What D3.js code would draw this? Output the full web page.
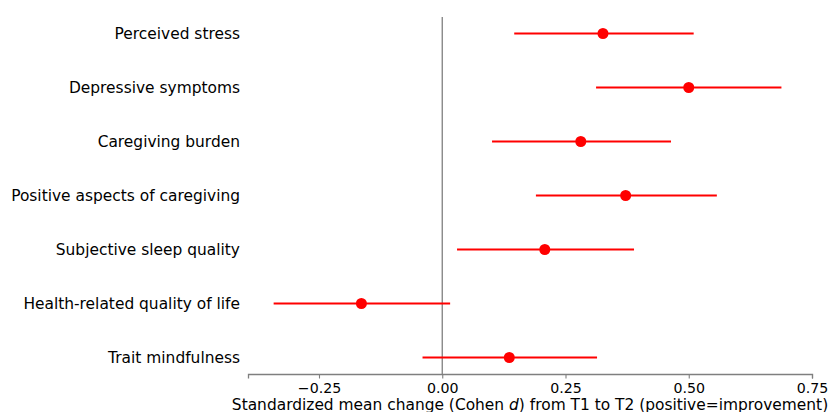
<!DOCTYPE html>
<html><head><meta charset="utf-8">
<script src="https://cdn.jsdelivr.net/npm/d3@7"></script>
<style>body{margin:0;background:#fff}svg{display:block}text{font-family:"DejaVu Sans",sans-serif}</style>
</head><body>
<svg id="c" width="832" height="412"></svg>
<script>
const categories = ["Perceived stress","Depressive symptoms","Caregiving burden","Positive aspects of caregiving","Subjective sleep quality","Health-related quality of life","Trait mindfulness"];
const estimates = [0.326, 0.500, 0.281, 0.372, 0.208, -0.164, 0.136];
const ciLow = [0.146, 0.312, 0.101, 0.190, 0.030, -0.342, -0.040];
const ciHigh = [0.510, 0.688, 0.464, 0.557, 0.389, 0.016, 0.314];
const xTicks = [-0.25, 0, 0.25, 0.5, 0.75];

const svg = d3.select("#c");
const x = d3.scaleLinear().domain([-0.394, 0.75]).range([248, 812]);
const y = d3.scalePoint().domain(categories).range([33.5, 357.5]);

// zero line
svg.append("line").attr("x1", x(0)).attr("x2", x(0)).attr("y1", 17).attr("y2", 374)
  .attr("stroke", "#7f7f7f").attr("stroke-width", 1.3);

// CIs
svg.selectAll("line.ci").data(categories).join("line").attr("class","ci")
  .attr("x1", (d,i)=>x(ciLow[i])).attr("x2", (d,i)=>x(ciHigh[i]))
  .attr("y1", d=>y(d)).attr("y2", d=>y(d))
  .attr("stroke", "red").attr("stroke-width", 2);
svg.selectAll("circle.pt").data(categories).join("circle").attr("class","pt")
  .attr("cx", (d,i)=>x(estimates[i])).attr("cy", d=>y(d)).attr("r", 5.5).attr("fill","red");

// x axis
const xa = svg.append("g").attr("transform","translate(0,374)")
  .call(d3.axisBottom(x).tickValues(xTicks).tickFormat(d=>d3.format(".2f")(d).replace("-","\u2212")).tickSizeOuter(0).tickSize(4.5).tickPadding(4));
xa.select(".domain").attr("stroke","#7f7f7f").attr("stroke-width",1.3);
xa.selectAll(".tick line").attr("stroke","#7f7f7f").attr("stroke-width",1.1);
xa.selectAll(".tick text").attr("font-size","14.2px").attr("fill","#000");

// y labels
svg.selectAll("text.lab").data(categories).join("text").attr("class","lab")
  .attr("transform", d=>`translate(240,${y(d)}) scale(0.935,1)`)
  .attr("dy","0.35em").attr("text-anchor","end")
  .attr("font-size","16.5px").attr("fill","#000").text(d=>d);

// x label
const xl = svg.append("text").attr("transform","translate(530,409.5) scale(0.935,1)").attr("text-anchor","middle")
  .attr("font-size","16.5px").attr("fill","#000");
xl.append("tspan").text("Standardized mean change (Cohen ");
xl.append("tspan").attr("font-style","italic").text("d");
xl.append("tspan").text(") from T1 to T2 (positive=improvement)");
</script>
</body></html>
